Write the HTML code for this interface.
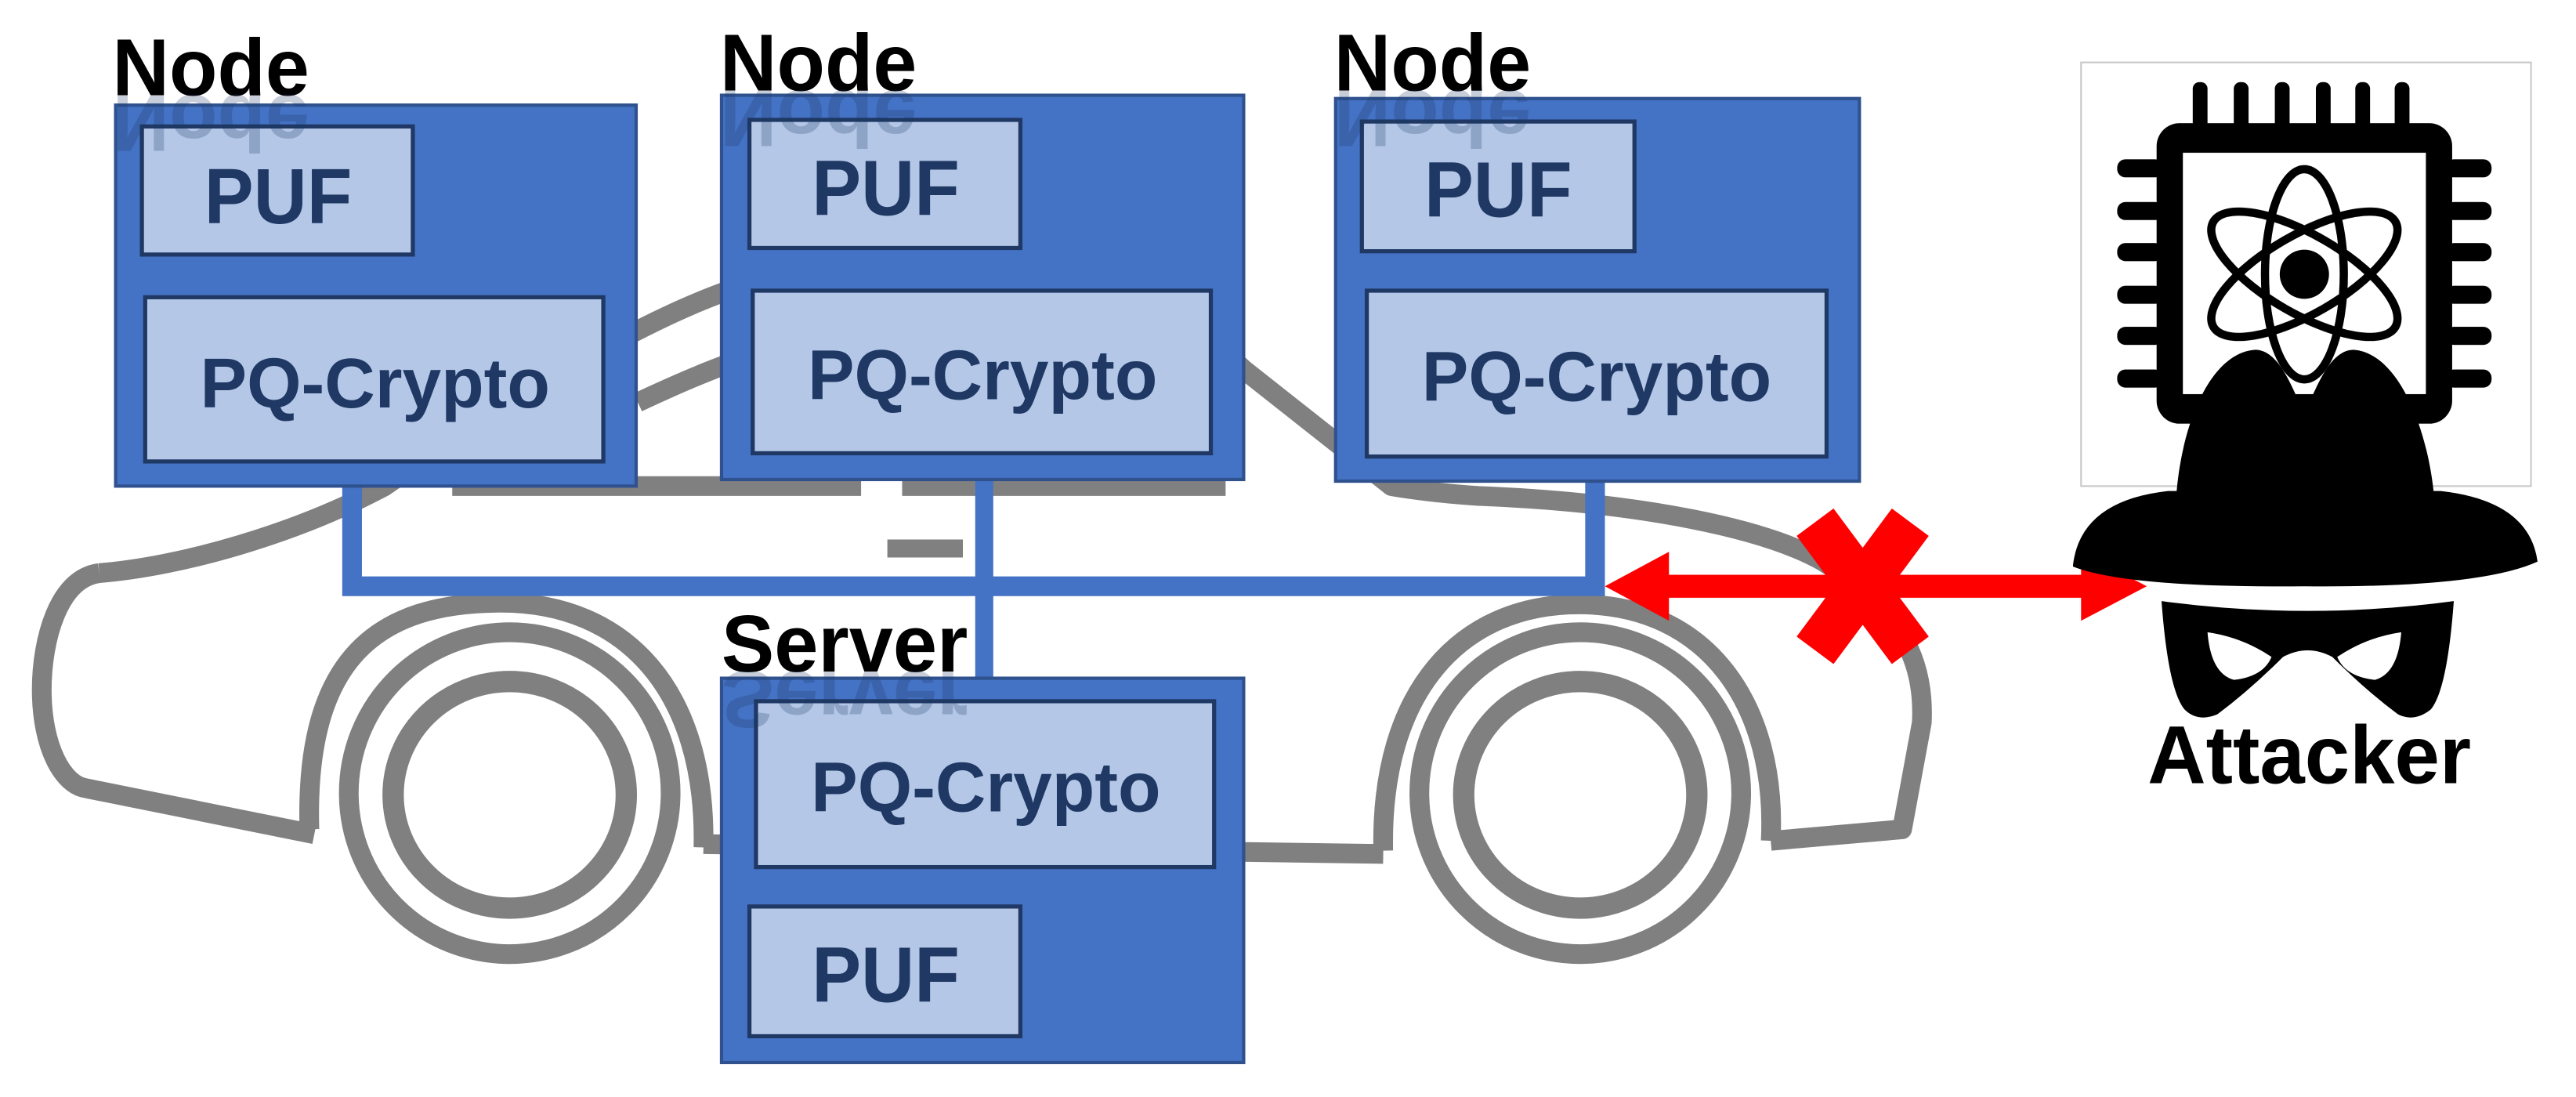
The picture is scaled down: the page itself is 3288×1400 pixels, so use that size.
<!DOCTYPE html>
<html><head><meta charset="utf-8"><style>
html,body{margin:0;padding:0;background:#fff;}
svg{display:block;}
text{font-family:"Liberation Sans",sans-serif;font-weight:bold;}
</style></head><body>
<svg width="3288" height="1400" viewBox="0 0 1568 668" xmlns="http://www.w3.org/2000/svg">
<rect width="1568" height="668" fill="#fff"/>
<!-- car -->
<g fill="none" stroke="#808080" stroke-width="12" stroke-linejoin="round">
  <path d="M 60 349 C 110 345 180 325 234 296 C 300 250 380 200 440 178 C 520 160 640 160 720 190 L 757 225 L 847 296 Q 870 300 900 302 C 1000 306 1075 322 1110 342 C 1155 370 1172 400 1170 440 L 1158 505 L 1078 512"/>
  <path d="M 60 349 C 35 352 25 390 25 420 C 25 455 38 478 52 480 L 191 508"/>
  <path d="M 188 505 C 185 400 230 367 305 367 C 380 367 430 420 428 516"/>
  <path d="M 428 514 L 842 520"/>
  <path d="M 842 518 C 840 420 890 368 961 368 C 1040 368 1082 430 1078 512"/>
  <path d="M 388 245 C 420 230 440 222 470 212"/>
  <path d="M 275 296 L 524 296 M 549 296 L 746 296"/>
  <path d="M 740 296 L 700 255" stroke-width="10"/>
  <path d="M 540 334 L 586 334" stroke-width="11"/>
  <ellipse cx="310" cy="483" rx="98" ry="98"/>
  <ellipse cx="310" cy="484" rx="71" ry="69" stroke-width="13"/>
  <ellipse cx="962" cy="483" rx="98" ry="98"/>
  <ellipse cx="962" cy="484" rx="71" ry="69" stroke-width="13"/>
</g>
<!-- bus -->
<g stroke="#4472c4" fill="none">
  <path d="M 214 290 L 214 357 L 977 357 M 971 290 L 971 357" stroke-width="12"/>
  <path d="M 599 288 L 599 415" stroke-width="11"/>
</g>
<!-- boxes -->
<g stroke="#2f528f" stroke-width="2" fill="#4472c4">
  <rect x="70" y="64" width="317" height="232"/>
  <rect x="439" y="58" width="318" height="234"/>
  <rect x="813" y="60" width="319" height="233"/>
  <rect x="439" y="413" width="318" height="234"/>
</g>
<g stroke="#1f3864" stroke-width="2.5" fill="#b4c7e7">
  <rect x="86" y="77" width="165" height="78"/>
  <rect x="88" y="181" width="279" height="100"/>
  <rect x="456" y="73" width="165" height="78"/>
  <rect x="458" y="177" width="279" height="99"/>
  <rect x="829" y="74" width="166" height="79"/>
  <rect x="832" y="177" width="280" height="101"/>
  <rect x="460" y="427" width="279" height="101"/>
  <rect x="456" y="552" width="165" height="79"/>
</g>
<g fill="#1f3864" text-anchor="middle">
  <text x="169" y="136" font-size="48" textLength="90" lengthAdjust="spacingAndGlyphs">PUF</text>
  <text x="228" y="248" font-size="43" textLength="213" lengthAdjust="spacingAndGlyphs">PQ-Crypto</text>
  <text x="539" y="131" font-size="48" textLength="90" lengthAdjust="spacingAndGlyphs">PUF</text>
  <text x="598" y="243" font-size="43" textLength="213" lengthAdjust="spacingAndGlyphs">PQ-Crypto</text>
  <text x="912" y="132" font-size="48" textLength="90" lengthAdjust="spacingAndGlyphs">PUF</text>
  <text x="972" y="244" font-size="43" textLength="213" lengthAdjust="spacingAndGlyphs">PQ-Crypto</text>
  <text x="600" y="494" font-size="43" textLength="213" lengthAdjust="spacingAndGlyphs">PQ-Crypto</text>
  <text x="539" y="610" font-size="48" textLength="90" lengthAdjust="spacingAndGlyphs">PUF</text>
</g>
<g fill="#000" font-size="49">
  <text x="68" y="58" textLength="120" lengthAdjust="spacingAndGlyphs">Node</text>
  <text x="438" y="55" textLength="120" lengthAdjust="spacingAndGlyphs">Node</text>
  <text x="812" y="55" textLength="120" lengthAdjust="spacingAndGlyphs">Node</text>
  <text x="439" y="409" textLength="150" lengthAdjust="spacingAndGlyphs">Server</text>
</g>
<!-- reflections -->
<g fill="#1f3864" opacity="0.25" font-size="49">
  <text transform="translate(0,116) scale(1,-1)" x="68" y="58" textLength="120" lengthAdjust="spacingAndGlyphs">Node</text>
  <text transform="translate(0,110) scale(1,-1)" x="438" y="55" textLength="120" lengthAdjust="spacingAndGlyphs">Node</text>
  <text transform="translate(0,110) scale(1,-1)" x="812" y="55" textLength="120" lengthAdjust="spacingAndGlyphs">Node</text>
  <text transform="translate(0,818) scale(1,-1)" x="439" y="409" textLength="150" lengthAdjust="spacingAndGlyphs">Server</text>
</g>
<!-- red arrow -->
<g fill="#ff0000">
  <rect x="1010" y="350" width="262" height="14"/>
  <polygon points="977,357 1016,336 1016,378"/>
  <polygon points="1307,357 1267,336 1267,378"/>
</g>
<g stroke="#ff0000" stroke-width="28">
  <line x1="1105" y1="318" x2="1163" y2="396"/>
  <line x1="1163" y1="318" x2="1105" y2="396"/>
</g>
<!-- attacker -->
<rect x="1267" y="38" width="274" height="258" fill="#fff" stroke="#c8c8c8" stroke-width="1"/>
<g fill="#000">
  <rect x="1313" y="75" width="180" height="183" rx="14"/>
  <rect x="1335" y="50" width="9" height="30" rx="4"/>
  <rect x="1360" y="50" width="9" height="30" rx="4"/>
  <rect x="1385" y="50" width="9" height="30" rx="4"/>
  <rect x="1410" y="50" width="9" height="30" rx="4"/>
  <rect x="1434" y="50" width="9" height="30" rx="4"/>
  <rect x="1458" y="50" width="9" height="30" rx="4"/>
  <g id="lp">
    <rect x="1289" y="97" width="28" height="11" rx="5"/>
    <rect x="1289" y="123" width="28" height="11" rx="5"/>
    <rect x="1289" y="148" width="28" height="11" rx="5"/>
    <rect x="1289" y="174" width="28" height="11" rx="5"/>
    <rect x="1289" y="199" width="28" height="11" rx="5"/>
    <rect x="1289" y="225" width="28" height="11" rx="5"/>
  </g>
  <use href="#lp" x="200"/>
</g>
<rect x="1329" y="93" width="148" height="147" fill="#fff"/>
<g fill="none" stroke="#000" stroke-width="5">
  <ellipse cx="1403" cy="167" rx="24" ry="64"/>
  <ellipse cx="1403" cy="167" rx="24" ry="64" transform="rotate(60 1403 167)"/>
  <ellipse cx="1403" cy="167" rx="24" ry="64" transform="rotate(-60 1403 167)"/>
</g>
<circle cx="1403" cy="167" r="15" fill="#000"/>
<!-- hat -->
<path d="M 1325 302 C 1328 260 1345 215 1373 213 C 1390 213 1398 245 1403 250 C 1408 245 1416 213 1433 213 C 1460 215 1478 260 1482 302 Z" fill="#000"/>
<path d="M 1262 345 Q 1266 305 1320 299 L 1486 299 Q 1540 305 1545 342 Q 1510 358 1403 357 Q 1295 358 1262 345 Z" fill="#000"/>
<!-- mask -->
<path d="M 1316 366 Q 1405 378 1494 366 Q 1490 420 1480 432 Q 1470 440 1460 435 Q 1440 420 1420 400 Q 1405 392 1390 400 Q 1370 420 1350 435 Q 1338 440 1330 432 Q 1320 420 1316 366 Z" fill="#000"/>
<path d="M 1344 385 Q 1365 388 1383 400 Q 1378 412 1360 414 Q 1346 410 1344 385 Z" fill="#fff"/>
<path d="M 1462 385 Q 1441 388 1423 400 Q 1428 412 1446 414 Q 1460 410 1462 385 Z" fill="#fff"/>
<text x="1406" y="477" font-size="50" fill="#000" text-anchor="middle" textLength="197" lengthAdjust="spacingAndGlyphs">Attacker</text>
</svg>
</body></html>
